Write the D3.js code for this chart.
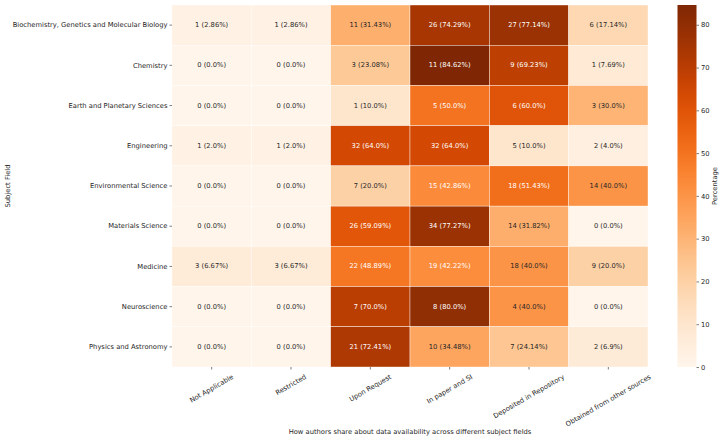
<!DOCTYPE html>
<html><head><meta charset="utf-8">
<script src="https://cdn.jsdelivr.net/npm/d3@7"></script>
<style>
html,body{margin:0;padding:0;background:#fff;}
text{font-family:"DejaVu Sans",sans-serif;}
</style></head>
<body>
<svg id="chart" width="723" height="440"></svg>
<script>
const subjects = ["Biochemistry, Genetics and Molecular Biology","Chemistry","Earth and Planetary Sciences","Engineering","Environmental Science","Materials Science","Medicine","Neuroscience","Physics and Astronomy"];
const methods = ["Not Applicable","Restricted","Upon Request","In paper and SI","Deposited in Repository","Obtained from other sources"];
const counts = [
  [1,1,11,26,27,6],
  [0,0,3,11,9,1],
  [0,0,1,5,6,3],
  [1,1,32,32,5,2],
  [0,0,7,15,18,14],
  [0,0,26,34,14,0],
  [3,3,22,19,18,9],
  [0,0,7,8,4,0],
  [0,0,21,10,7,2]
];
const percents = [
  [2.86,2.86,31.43,74.29,77.14,17.14],
  [0.0,0.0,23.08,84.62,69.23,7.69],
  [0.0,0.0,10.0,50.0,60.0,30.0],
  [2.0,2.0,64.0,64.0,10.0,4.0],
  [0.0,0.0,20.0,42.86,51.43,40.0],
  [0.0,0.0,59.09,77.27,31.82,0.0],
  [6.67,6.67,48.89,42.22,40.0,20.0],
  [0.0,0.0,70.0,80.0,40.0,0.0],
  [0.0,0.0,72.41,34.48,24.14,6.9]
];
const colorTicks = [0,10,20,30,40,50,60,70,80];
const xTitle = "How authors share about data availability across different subject fields";
const yTitle = "Subject Field";
const cbTitle = "Percentage";

const svg = d3.select("#chart");
const FS = 6.75;
const L = 172, R = 648, T = 5, B = 367;
const x = d3.scaleBand().domain(methods).range([L, R]);
const y = d3.scaleBand().domain(subjects).range([T, B]);
const vmax = d3.max(percents.flat());
const color = d3.scaleSequential(d3.interpolateOranges).domain([0, vmax]);

function fmtPct(p){ return Number.isInteger(p) ? p.toFixed(1) : String(p); }
function lum(c){
  const rgb = d3.rgb(c);
  const f = v => { v/=255; return v <= 0.03928 ? v/12.92 : Math.pow((v+0.055)/1.055, 2.4); };
  return 0.2126*f(rgb.r)+0.7152*f(rgb.g)+0.0722*f(rgb.b);
}

const cells = [];
subjects.forEach((s,i)=>methods.forEach((m,j)=>cells.push({s,m,c:counts[i][j],p:percents[i][j]})));

svg.append("g").selectAll("rect").data(cells).join("rect")
  .attr("x", d=>x(d.m)).attr("y", d=>y(d.s))
  .attr("width", x.bandwidth()).attr("height", y.bandwidth())
  .attr("fill", d=>color(d.p))
  .attr("stroke", "#fff").attr("stroke-width", 0.4);

svg.append("g").selectAll("text").data(cells).join("text")
  .attr("x", d=>x(d.m)+x.bandwidth()/2).attr("y", d=>y(d.s)+y.bandwidth()/2)
  .attr("text-anchor","middle").attr("dominant-baseline","central")
  .attr("font-size", FS)
  .attr("fill", d=> lum(color(d.p)) > 0.408 ? "#262626" : "#ffffff")
  .text(d=>`${d.c} (${fmtPct(d.p)}%)`);

// Y axis
const yAxis = svg.append("g").attr("transform",`translate(${L},0)`)
  .call(d3.axisLeft(y).tickSize(2.5).tickPadding(2));
yAxis.select(".domain").remove();
yAxis.selectAll("line").attr("stroke","#262626").attr("stroke-width",0.6);
yAxis.selectAll("text").attr("font-size",FS).attr("fill","#262626").attr("font-family","DejaVu Sans");

// X axis
const xAxis = svg.append("g").attr("transform",`translate(0,${B})`)
  .call(d3.axisBottom(x).tickSize(2.5));
xAxis.select(".domain").remove();
xAxis.selectAll("line").attr("stroke","#262626").attr("stroke-width",0.6);
xAxis.selectAll("text").attr("font-size",FS).attr("fill","#262626").attr("font-family","DejaVu Sans")
  .attr("text-anchor","middle").attr("dominant-baseline","central")
  .attr("dy",null)
  .each(function(){
    const w = this.getComputedTextLength();
    const h = FS*1.17;
    const a = Math.PI/6;
    const bh = w*Math.sin(a) + h*Math.cos(a);
    const cy = 6 + bh/2;
    d3.select(this).attr("y", 0).attr("transform", `translate(0,${cy}) rotate(-30)`);
  });

// Axis titles
svg.append("text").attr("x",(L+R)/2).attr("y",434).attr("text-anchor","middle")
  .attr("font-size",FS).attr("fill","#262626").text(xTitle);
svg.append("text").attr("transform",`translate(9.5,${(T+B)/2}) rotate(-90)`)
  .attr("text-anchor","middle").attr("font-size",FS).attr("fill","#262626").text(yTitle);

// Colorbar
const cbL = 677.5, cbW = 19;
const cy = d3.scaleLinear().domain([0, vmax]).range([B, T]);
const defs = svg.append("defs");
const grad = defs.append("linearGradient").attr("id","cbg").attr("x1",0).attr("y1",1).attr("x2",0).attr("y2",0);
d3.range(0,1.0001,0.05).forEach(t=>grad.append("stop").attr("offset",t).attr("stop-color",color(t*vmax)));
svg.append("rect").attr("x",cbL).attr("y",T).attr("width",cbW).attr("height",B-T).attr("fill","url(#cbg)");
const cbAxis = svg.append("g").attr("transform",`translate(${cbL+cbW},0)`)
  .call(d3.axisRight(cy).tickValues(colorTicks).tickSize(2.5).tickPadding(2));
cbAxis.select(".domain").remove();
cbAxis.selectAll("line").attr("stroke","#262626").attr("stroke-width",0.6);
cbAxis.selectAll("text").attr("font-size",FS).attr("fill","#262626").attr("font-family","DejaVu Sans");
svg.append("text").attr("transform",`translate(717,${(T+B)/2}) rotate(-90)`)
  .attr("text-anchor","middle").attr("font-size",FS).attr("fill","#262626").text(cbTitle);
</script>
</body></html>
